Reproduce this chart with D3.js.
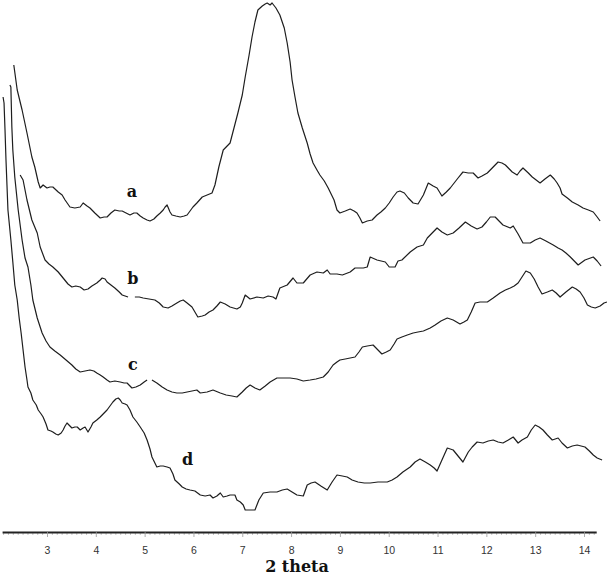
<!DOCTYPE html>
<html>
<head>
<meta charset="utf-8">
<script src="https://cdn.jsdelivr.net/npm/d3@7/dist/d3.min.js"></script>
<style>
  html, body { margin: 0; padding: 0; background: #fff; }
  svg { display: block; }
</style>
</head>
<body>
<svg id="chart" width="609" height="577"></svg>
<script>
// 2θ (degrees) vs intensity (a.u., stacked patterns)
const seriesA = [[2.32,475],[2.39,450],[2.49,430],[2.59,407],[2.69,383],[2.75,373],[2.82,358],[2.86,352],[2.92,355],[3.00,352],[3.06,353],[3.12,353],[3.23,348],[3.31,345],[3.37,340],[3.47,333],[3.57,332],[3.68,333],[3.74,337],[3.82,334],[3.88,332],[3.98,327],[4.09,322],[4.17,323],[4.23,323],[4.31,327],[4.39,330],[4.48,329],[4.54,329],[4.62,327],[4.70,325],[4.78,327],[4.84,327],[4.91,324],[4.97,322],[5.05,320],[5.11,319],[5.19,321],[5.25,324],[5.32,327],[5.38,330],[5.42,333],[5.46,335],[5.52,328],[5.56,325],[5.64,324],[5.73,323],[5.81,324],[5.87,325],[5.93,329],[5.99,333],[6.07,337],[6.18,343],[6.28,345],[6.38,347],[6.44,355],[6.52,373],[6.61,390],[6.69,394],[6.75,397],[6.83,412],[6.91,427],[7.00,445],[7.06,463],[7.14,485],[7.20,503],[7.26,518],[7.32,530],[7.41,534],[7.47,536],[7.51,537],[7.57,535],[7.61,537],[7.69,532],[7.77,525],[7.86,512],[7.92,497],[7.98,478],[8.02,460],[8.08,443],[8.14,427],[8.23,412],[8.33,397],[8.39,386],[8.45,377],[8.53,370],[8.59,365],[8.68,359],[8.76,352],[8.82,346],[8.88,340],[8.94,330],[9.00,327],[9.11,329],[9.21,331],[9.29,329],[9.35,327],[9.41,322],[9.46,317],[9.56,319],[9.66,320],[9.76,325],[9.84,328],[9.93,332],[10.01,337],[10.09,343],[10.17,348],[10.23,349],[10.32,347],[10.40,342],[10.50,337],[10.60,336],[10.71,345],[10.81,357],[10.91,354],[10.99,352],[11.09,344],[11.18,348],[11.26,352],[11.34,357],[11.42,362],[11.52,368],[11.63,367],[11.73,367],[11.83,362],[11.91,364],[12.02,367],[12.08,370],[12.14,373],[12.24,378],[12.32,377],[12.39,375],[12.47,371],[12.53,368],[12.63,365],[12.69,369],[12.75,372],[12.86,367],[12.94,363],[13.02,360],[13.10,357],[13.20,361],[13.31,365],[13.39,361],[13.45,357],[13.51,352],[13.55,346],[13.66,342],[13.76,338],[13.88,335],[13.98,332],[14.09,330],[14.19,328],[14.27,323],[14.33,319]];

const seriesB = [[2.45,365],[2.51,360],[2.59,340],[2.69,320],[2.80,307],[2.86,293],[2.96,280],[3.04,276],[3.12,273],[3.23,268],[3.33,262],[3.43,256],[3.51,253],[3.59,254],[3.68,253],[3.76,250],[3.84,251],[3.92,254],[4.02,257],[4.09,260],[4.13,262],[4.19,261],[4.23,258],[4.31,255],[4.39,252],[4.48,248],[4.54,245],[4.60,244],[4.66,243],[4.73,null],[4.80,243],[4.89,243],[4.97,242],[5.09,241],[5.21,240],[5.30,237],[5.38,233],[5.48,232],[5.56,234],[5.66,237],[5.73,239],[5.79,240],[5.87,237],[5.97,233],[6.03,228],[6.09,223],[6.18,224],[6.24,225],[6.32,228],[6.40,230],[6.48,234],[6.55,238],[6.65,236],[6.75,233],[6.89,231],[6.96,233],[7.00,237],[7.06,245],[7.16,241],[7.30,243],[7.43,242],[7.53,244],[7.63,243],[7.69,241],[7.77,252],[7.92,255],[8.04,262],[8.12,257],[8.25,257],[8.39,265],[8.53,268],[8.66,267],[8.74,270],[8.80,266],[8.94,266],[9.05,265],[9.21,268],[9.31,272],[9.48,272],[9.56,273],[9.62,283],[9.76,280],[9.93,278],[10.01,273],[10.13,273],[10.19,279],[10.27,280],[10.44,288],[10.58,293],[10.71,295],[10.79,302],[10.89,307],[10.99,312],[11.09,308],[11.20,305],[11.32,307],[11.44,312],[11.57,318],[11.69,314],[11.81,311],[11.91,313],[12.00,318],[12.08,323],[12.18,323],[12.26,319],[12.34,315],[12.49,312],[12.55,314],[12.65,306],[12.75,297],[12.90,297],[13.00,300],[13.10,302],[13.22,299],[13.37,295],[13.47,292],[13.55,290],[13.63,287],[13.72,283],[13.80,279],[13.88,275],[14.02,280],[14.19,283],[14.27,279],[14.35,274]];

const seriesC = [[2.24,455],[2.26,453],[2.28,413],[2.30,390],[2.34,363],[2.41,330],[2.49,300],[2.55,282],[2.61,273],[2.67,255],[2.71,240],[2.80,222],[2.90,207],[2.98,199],[3.06,193],[3.16,189],[3.27,185],[3.39,180],[3.51,175],[3.59,171],[3.68,168],[3.78,169],[3.88,170],[3.96,169],[4.02,167],[4.09,165],[4.15,163],[4.23,160],[4.29,158],[4.39,159],[4.50,158],[4.58,157],[4.64,157],[4.70,154],[4.74,152],[4.82,153],[4.91,155],[4.99,158],[5.05,160],[5.10,null],[5.15,160],[5.25,157],[5.36,153],[5.46,150],[5.56,148],[5.66,147],[5.77,147],[5.87,148],[5.97,149],[6.07,150],[6.14,147],[6.28,148],[6.40,150],[6.55,147],[6.67,145],[6.79,144],[6.89,143],[7.00,148],[7.08,152],[7.16,155],[7.26,152],[7.36,150],[7.47,154],[7.57,158],[7.71,162],[7.86,162],[7.98,162],[8.12,161],[8.25,159],[8.39,160],[8.51,161],[8.66,163],[8.76,168],[8.86,175],[8.94,178],[9.00,180],[9.11,181],[9.21,182],[9.31,183],[9.39,188],[9.46,193],[9.56,194],[9.68,195],[9.78,190],[9.86,186],[9.95,188],[10.03,190],[10.11,196],[10.17,201],[10.27,203],[10.38,205],[10.50,207],[10.60,208],[10.71,209],[10.85,212],[10.95,215],[11.07,219],[11.20,222],[11.32,220],[11.46,216],[11.54,218],[11.61,220],[11.69,228],[11.77,237],[11.87,238],[12.02,238],[12.14,242],[12.28,247],[12.39,250],[12.49,252],[12.57,254],[12.65,257],[12.73,263],[12.81,269],[12.90,267],[12.98,261],[13.06,253],[13.14,246],[13.25,248],[13.35,250],[13.43,247],[13.51,243],[13.63,248],[13.76,253],[13.84,251],[13.92,248],[14.00,242],[14.07,235],[14.15,233],[14.23,232],[14.33,234],[14.41,237],[14.47,238]];

const seriesD = [[2.10,443],[2.12,437],[2.14,410],[2.16,380],[2.18,355],[2.20,330],[2.24,310],[2.26,300],[2.30,278],[2.34,255],[2.39,240],[2.43,222],[2.47,207],[2.51,190],[2.55,173],[2.59,160],[2.61,153],[2.67,147],[2.71,140],[2.78,135],[2.82,130],[2.88,126],[2.92,123],[2.98,116],[3.02,110],[3.08,109],[3.12,108],[3.18,106],[3.23,105],[3.29,107],[3.33,110],[3.37,114],[3.41,117],[3.47,114],[3.51,112],[3.57,113],[3.62,113],[3.68,110],[3.74,112],[3.78,113],[3.84,108],[3.90,113],[3.94,117],[4.02,120],[4.09,123],[4.17,127],[4.23,130],[4.29,134],[4.35,138],[4.41,141],[4.46,142],[4.50,140],[4.54,137],[4.60,136],[4.64,135],[4.70,130],[4.76,123],[4.84,118],[4.91,113],[4.99,107],[5.05,100],[5.11,91],[5.15,83],[5.21,77],[5.25,73],[5.32,74],[5.38,74],[5.46,73],[5.52,72],[5.58,66],[5.62,60],[5.71,56],[5.77,53],[5.85,51],[5.93,50],[6.03,49],[6.14,45],[6.24,44],[6.34,45],[6.40,42],[6.48,44],[6.55,47],[6.61,43],[6.69,44],[6.75,45],[6.85,45],[6.89,40],[6.96,38],[7.02,35],[7.06,30],[7.16,30],[7.26,30],[7.34,40],[7.43,47],[7.57,48],[7.71,48],[7.82,50],[7.92,51],[8.02,48],[8.12,45],[8.25,44],[8.33,55],[8.41,57],[8.49,58],[8.61,54],[8.74,50],[8.84,58],[8.94,65],[9.05,64],[9.15,63],[9.25,60],[9.37,58],[9.50,57],[9.62,57],[9.78,58],[9.97,58],[10.07,60],[10.17,63],[10.29,68],[10.44,73],[10.54,78],[10.64,81],[10.75,78],[10.85,75],[10.93,72],[10.99,69],[11.09,80],[11.20,92],[11.32,90],[11.42,84],[11.52,78],[11.63,88],[11.71,93],[11.81,98],[11.93,97],[12.04,99],[12.14,100],[12.24,98],[12.34,97],[12.45,100],[12.55,103],[12.65,97],[12.73,100],[12.84,103],[12.92,110],[13.00,115],[13.08,113],[13.16,110],[13.25,105],[13.35,100],[13.47,102],[13.55,97],[13.66,92],[13.76,94],[13.86,95],[13.94,94],[14.02,93],[14.11,89],[14.19,85],[14.27,82],[14.37,80]];

const seriesNames = ["a", "b", "c", "d"];
const labelPos = [[4.74, 348], [4.76, 261], [4.76, 175], [5.88, 80]];
const tickValues = [3, 4, 5, 6, 7, 8, 9, 10, 11, 12, 13, 14];
const axisTitle = "2 theta";

const svg = d3.select("#chart");
const x = d3.scaleLinear().domain([3, 14]).range([47, 584]);
const y = d3.scaleLinear().domain([0, 540]).range([540, 0]);

// axis
const axisY = 532;
const axisScale = x.copy().domain([2.08, 14.25]).range([x(2.08), x(14.25)]);
const minorTicks = d3.range(21, 143).map(v => v / 10).filter(v => Math.abs(v - Math.round(v)) > 1e-6);

const minorAxis = svg.append("g")
  .attr("transform", `translate(0,${axisY})`)
  .call(d3.axisBottom(axisScale).tickValues(minorTicks).tickSize(3).tickSizeOuter(0).tickFormat(""));
minorAxis.select(".domain").remove();
minorAxis.selectAll(".tick line").attr("stroke", "#aaa").attr("stroke-width", 0.7);

const majorAxis = svg.append("g")
  .attr("transform", `translate(0,${axisY})`)
  .call(d3.axisBottom(axisScale).tickValues(tickValues).tickSize(5).tickSizeOuter(0).tickPadding(10).tickFormat(d3.format("d")));
majorAxis.select(".domain").attr("stroke", "#222").attr("stroke-width", 1.8);
majorAxis.selectAll(".tick line").attr("stroke", "#999").attr("stroke-width", 0.8);
majorAxis.selectAll(".tick text")
  .attr("font-family", "'Liberation Sans', Arial, sans-serif")
  .attr("font-size", 10.5)
  .attr("fill", "#333");

svg.append("text")
  .attr("x", 297).attr("y", 572)
  .attr("text-anchor", "middle")
  .attr("font-family", "'DejaVu Serif', serif")
  .attr("font-weight", "bold")
  .attr("font-size", 16)
  .attr("fill", "#111")
  .text(axisTitle);

// curves
const line = d3.line()
  .defined(d => d[1] != null)
  .x(d => x(d[0]))
  .y(d => y(d[1]));

[seriesA, seriesB, seriesC, seriesD].forEach(s => {
  svg.append("path")
    .datum(s)
    .attr("fill", "none")
    .attr("stroke", "#1e1e1e")
    .attr("stroke-width", 1.2)
    .attr("stroke-linejoin", "round")
    .attr("d", line);
});

// curve labels
svg.selectAll(".lbl")
  .data(seriesNames)
  .enter().append("text")
  .attr("class", "lbl")
  .attr("x", (d, i) => x(labelPos[i][0]))
  .attr("y", (d, i) => y(labelPos[i][1]))
  .attr("text-anchor", "middle")
  .attr("dominant-baseline", "middle")
  .attr("font-family", "'DejaVu Serif', serif")
  .attr("font-weight", "bold")
  .attr("font-size", 16)
  .attr("fill", "#111")
  .text(d => d);
</script>
</body>
</html>
